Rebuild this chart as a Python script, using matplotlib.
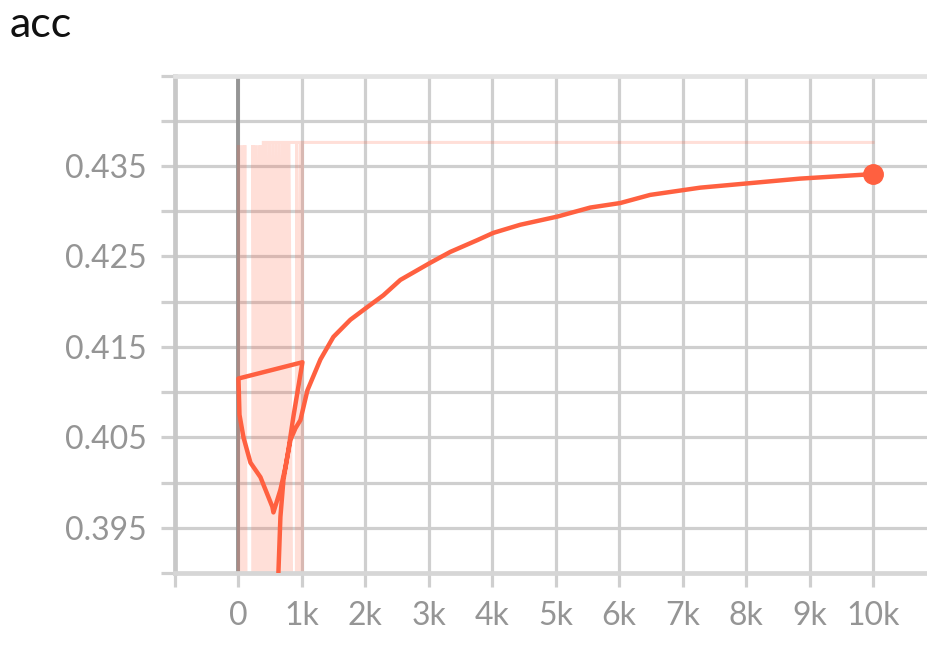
import matplotlib
matplotlib.use("Agg")
import matplotlib.pyplot as plt

# raw accuracy values (several restarted runs logged into one curve)
raw_steps = [0, 0, 25, 50, 75, 100, 120,
             225, 228, 255, 280, 305, 330, 355, 358, 362,
             745, 748, 790, 795, 840,
             913, 916, 950, 975, 1000, 1005, 1008,
             740, 737, 715, 690, 665, 640, 615, 590, 565, 540, 515, 490, 465, 440, 415, 392,
             10000]
raw_vals = [0.385, 0.4373, 0.385, 0.4373, 0.385, 0.4373, 0.385,
            0.385, 0.4373, 0.385, 0.4373, 0.385, 0.4373, 0.385, 0.4373, 0.385,
            0.385, 0.4376, 0.385, 0.4376, 0.385,
            0.385, 0.4376, 0.385, 0.4376, 0.385, 0.4376, 0.385,
            0.385, 0.4376, 0.385, 0.4376, 0.385, 0.4376, 0.385, 0.4376, 0.385, 0.4376, 0.385, 0.4376, 0.385, 0.4376, 0.385, 0.4376,
            0.4376]

# smoothed curve
smooth_steps = [614, 661, 709, 787, 866, 1008,
                0, 16, 79, 189, 346, 535, 551, 661, 740, 819, 898,
                976, 1087, 1291, 1496, 1764, 2031, 2283, 2551, 3024, 3339, 3764,
                4016, 4441, 5024, 5543, 6016, 6488, 7276, 8063, 8850, 10000]
smooth_vals = [0.3870, 0.3962, 0.4003, 0.4036, 0.4073, 0.4133,
               0.4115, 0.4075, 0.4050, 0.4022, 0.4006, 0.3973, 0.3967, 0.3992, 0.4017, 0.4047, 0.4060,
               0.4069, 0.4102, 0.4136, 0.4161, 0.4180, 0.4194, 0.4207, 0.4224, 0.4243, 0.4255, 0.4268,
               0.4276, 0.4285, 0.4294, 0.4304, 0.4309, 0.4318, 0.4326, 0.4331, 0.4336, 0.4341]

x_ticks = [-1000, 0, 1000, 2000, 3000, 4000, 5000, 6000, 7000, 8000, 9000, 10000]
x_labels = ["", "0", "1k", "2k", "3k", "4k", "5k", "6k", "7k", "8k", "9k", "10k"]
y_ticks = [0.39, 0.395, 0.40, 0.405, 0.41, 0.415, 0.42, 0.425, 0.43, 0.435, 0.44, 0.445]
y_labels = ["", "0.395", "", "0.405", "", "0.415", "", "0.425", "", "0.435", "", ""]

line_color = "#ff6040"
grid_color = "#cfcfcf"

fig = plt.figure(figsize=(9.28, 6.57), dpi=100)
ax = fig.add_axes([175 / 928, 84 / 657, 753 / 928, 497.5 / 657])

ax.set_xlim(-1000, 10866)
ax.set_ylim(0.39, 0.445)

ax.set_xticks(x_ticks)
ax.set_xticklabels(x_labels)
ax.set_yticks(y_ticks)
ax.set_yticklabels(y_labels)

ax.grid(True, color=grid_color, linewidth=2.3, zorder=0)
ax.set_axisbelow(True)
ax.tick_params(axis="both", direction="out", length=10, width=2.3,
               color=grid_color, pad=10, labelsize=23, labelcolor="#959595")
for lab in ax.get_xticklabels() + ax.get_yticklabels():
    lab.set_family(["Lato", "DejaVu Sans"])
    lab.set_fontweight("normal")

ax.spines["right"].set_visible(False)
ax.spines["left"].set_color("#c8c8c8")
ax.spines["left"].set_linewidth(3.4)
ax.spines["top"].set_color("#e2e2e2")
ax.spines["top"].set_linewidth(3.4)
ax.spines["bottom"].set_color("#d6d6d6")
ax.spines["bottom"].set_linewidth(3.4)

# step-zero reference line
ax.axvline(0, color="#959595", linewidth=2.8, zorder=1)

ax.plot(raw_steps, raw_vals, color=line_color, alpha=0.2, linewidth=2.2,
        solid_joinstyle="miter", zorder=2)
ax.plot(smooth_steps, smooth_vals, color=line_color, linewidth=3.2, zorder=3)
ax.plot(smooth_steps[-1:], smooth_vals[-1:], "o", color=line_color,
        markersize=14, zorder=4, clip_on=False)

fig.text(10 / 928, 1 - 37 / 657, "acc", fontsize=31, color="#111111",
         va="baseline", ha="left", family=["Lato", "DejaVu Sans"])

fig.savefig("out.png", dpi=100, facecolor="white")
